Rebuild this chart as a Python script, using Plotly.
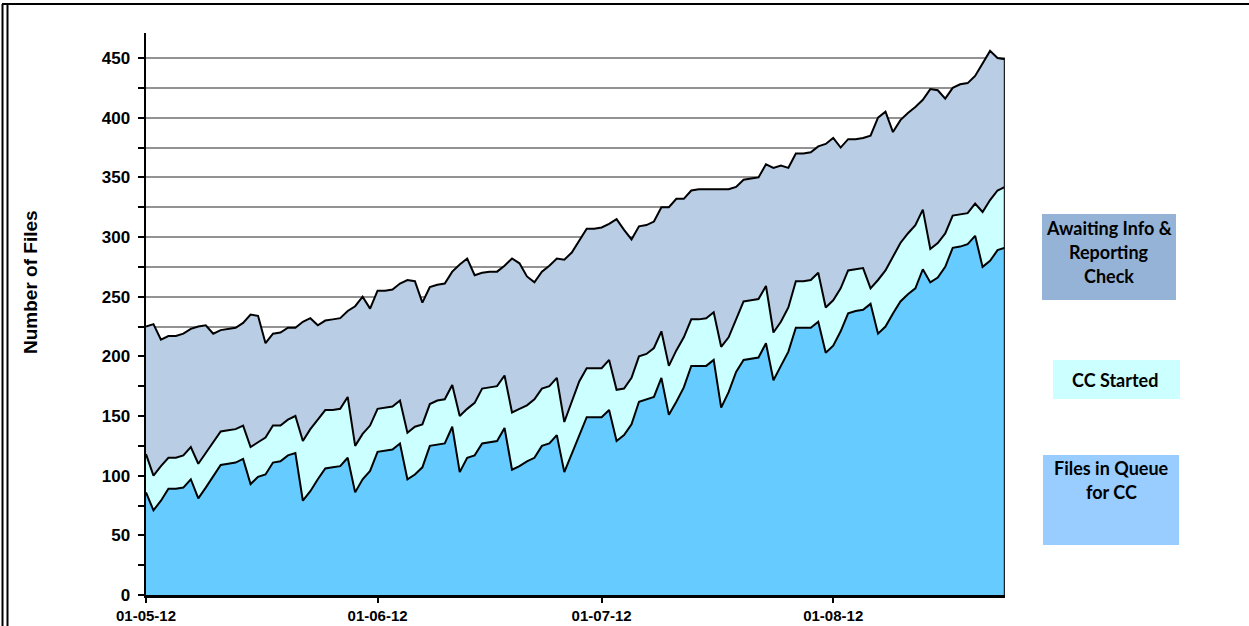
import pandas as pd
import plotly.graph_objects as go

# ---- data (daily, 01-05-2012 .. 24-08-2012), cumulative stack levels ----
start_date = "2012-05-01"
n_days = 116
dates = pd.date_range(start_date, periods=n_days, freq="D")

files_in_queue = [
    86, 71, 79, 89, 89, 90, 97, 81, 90, 100, 109, 110, 111, 114, 93, 99, 101, 111, 112, 117,
    119, 79, 87, 97, 106, 107, 108, 115, 86, 97, 104, 120, 121, 122, 127, 97, 101, 107, 125, 126,
    127, 141, 103, 115, 117, 127, 128, 129, 140, 105, 108, 112, 115, 125, 127, 134, 103, 118, 134, 149,
    149, 149, 155, 129, 134, 143, 162, 164, 166, 182, 151, 162, 174, 192, 192, 192, 197, 157, 170, 187,
    197, 198, 199, 211, 180, 192, 204, 224, 224, 224, 229, 203, 209, 221, 236, 238, 239, 244, 219, 225,
    236, 246, 252, 257, 273, 262, 266, 275, 291, 292, 294, 301, 275, 280, 289, 291,
]
queue_plus_cc_started = [
    118, 100, 108, 115, 115, 117, 124, 110, 119, 128, 137, 138, 139, 142, 124, 128, 132, 142, 142, 147,
    150, 129, 139, 147, 155, 155, 156, 166, 125, 135, 142, 156, 157, 158, 163, 136, 141, 143, 160, 163,
    164, 176, 150, 156, 161, 173, 174, 175, 184, 153, 156, 159, 164, 173, 175, 182, 145, 162, 179, 190,
    190, 190, 197, 172, 173, 182, 200, 202, 207, 221, 192, 205, 216, 231, 231, 232, 237, 208, 216, 231,
    246, 247, 248, 259, 220, 229, 241, 263, 263, 264, 270, 241, 247, 257, 272, 273, 274, 257, 264, 272,
    284, 295, 303, 310, 323, 290, 295, 303, 318, 319, 320, 328, 321, 331, 339, 342,
]
total_files = [
    225, 227, 214, 217, 217, 219, 223, 225, 226, 219, 222, 223, 224, 228, 235, 234, 211, 219, 220, 224,
    224, 229, 232, 226, 230, 231, 232, 238, 242, 250, 240, 255, 255, 256, 261, 264, 263, 245, 258, 260,
    261, 271, 277, 282, 268, 270, 271, 271, 276, 282, 278, 267, 262, 271, 276, 282, 281, 287, 297, 307,
    307, 308, 311, 315, 306, 298, 309, 310, 313, 325, 325, 332, 332, 339, 340, 340, 340, 340, 340, 342,
    348, 349, 350, 361, 358, 360, 358, 370, 370, 371, 376, 378, 383, 375, 382, 382, 383, 385, 400, 405,
    388, 398, 404, 409, 415, 424, 423, 416, 425, 428, 429, 435, 445, 456, 450, 449,
]

month_ticks = ["2012-05-01", "2012-06-01", "2012-07-01", "2012-08-01"]
month_labels = ["01-05-12", "01-06-12", "01-07-12", "01-08-12"]
y_ticks = [0, 50, 100, 150, 200, 250, 300, 350, 400, 450]

legend_labels = [
    ["Awaiting Info &", "Reporting", "Check"],
    ["CC Started"],
    ["Files in Queue", "for CC"],
]

# ---- layout geometry (pixels of the 1249x626 page) ----
W, H = 1249, 626
L, R, T, B = 146, 1005, 33, 595


def px(x):
    return (x - L) / (R - L)


def py(y):
    return (B - y) / (B - T)


fig = go.Figure()
line_style = dict(color="#000000", width=2)
fig.add_trace(go.Scatter(x=dates, y=files_in_queue, mode="lines", line=line_style,
                         fill="tozeroy", fillcolor="#66CCFF", hoverinfo="skip"))
fig.add_trace(go.Scatter(x=dates, y=queue_plus_cc_started, mode="lines", line=line_style,
                         fill="tonexty", fillcolor="#CCFFFF", hoverinfo="skip"))
fig.add_trace(go.Scatter(x=dates, y=total_files, mode="lines", line=line_style,
                         fill="tonexty", fillcolor="#B9CDE5", hoverinfo="skip"))

shapes = [
    # right edge of the stacked area
    dict(type="line", xref="x", yref="y", x0=dates[-1], x1=dates[-1], y0=0, y1=total_files[-1],
         line=dict(color="#222222", width=2.5), layer="above"),
    # outer frame
    dict(type="line", xref="paper", yref="paper", x0=px(2), x1=px(1249), y0=py(4), y1=py(4),
         line=dict(color="#000000", width=2)),
    dict(type="line", xref="paper", yref="paper", x0=px(2.5), x1=px(2.5), y0=py(4), y1=py(626),
         line=dict(color="#000000", width=2)),
    dict(type="line", xref="paper", yref="paper", x0=px(7.5), x1=px(7.5), y0=py(5), y1=py(626),
         line=dict(color="#000000", width=2)),
    # legend boxes
    dict(type="rect", xref="paper", yref="paper", x0=px(1042), x1=px(1176), y0=py(300), y1=py(214),
         fillcolor="#95B3D7", line=dict(width=0)),
    dict(type="rect", xref="paper", yref="paper", x0=px(1053), x1=px(1180), y0=py(399), y1=py(360),
         fillcolor="#CCFFFF", line=dict(width=0)),
    dict(type="rect", xref="paper", yref="paper", x0=px(1043), x1=px(1179), y0=py(545), y1=py(455),
         fillcolor="#99CCFF", line=dict(width=0)),
]

legend_font = dict(family="Lato", size=18, color="#000000", weight="bold")
annotations = []
legend_pos = [(1109, [228, 252, 275.5]), (1115, [380]), (1111, [468, 492])]
for (cx, ys), lines in zip(legend_pos, legend_labels):
    for yy, txt in zip(ys, lines):
        annotations.append(dict(text=txt, xref="paper", yref="paper", x=px(cx), y=py(yy),
                                xanchor="center", yanchor="middle", showarrow=False,
                                font=legend_font))
annotations.append(dict(text="Number of Files", xref="paper", yref="paper", x=px(30), y=py(282),
                        xanchor="center", yanchor="middle", textangle=-90, showarrow=False,
                        font=dict(family="Liberation Sans", size=19, color="#000000", weight="bold")))

grid_color = "#929292"
fig.update_layout(
    width=W, height=H,
    margin=dict(l=L, r=W - R, t=T, b=H - B, pad=0, autoexpand=False),
    paper_bgcolor="#FFFFFF", plot_bgcolor="#FFFFFF",
    showlegend=False,
    shapes=shapes,
    annotations=annotations,
    xaxis=dict(
        type="date", range=[dates[0], dates[-1]], automargin=False,
        tickvals=month_ticks, ticktext=month_labels,
        showgrid=False, zeroline=False,
        showline=True, linecolor="#000000", linewidth=2.5,
        ticks="outside", ticklen=5, tickwidth=2, tickcolor="#000000",
        tickfont=dict(family="Liberation Sans", size=15, color="#000000", weight="bold"),
    ),
    yaxis=dict(
        range=[0, 471], automargin=False,
        tickvals=y_ticks,
        showgrid=True, gridcolor=grid_color, gridwidth=2,
        zeroline=False,
        showline=True, linecolor="#000000", linewidth=2.5,
        ticks="outside", ticklen=6, tickwidth=2, tickcolor="#000000",
        ticklabelstandoff=4,
        tickfont=dict(family="Liberation Sans", size=17, color="#000000", weight="bold"),
        minor=dict(dtick=25, showgrid=True, gridcolor=grid_color, gridwidth=2,
                   ticks="outside", ticklen=6, tickwidth=2, tickcolor="#000000"),
    ),
)

fig.write_html("out.html",
               config={"displayModeBar": False, "staticPlot": True},
               post_script="document.body.style.margin='0';document.body.style.overflow='hidden';")
